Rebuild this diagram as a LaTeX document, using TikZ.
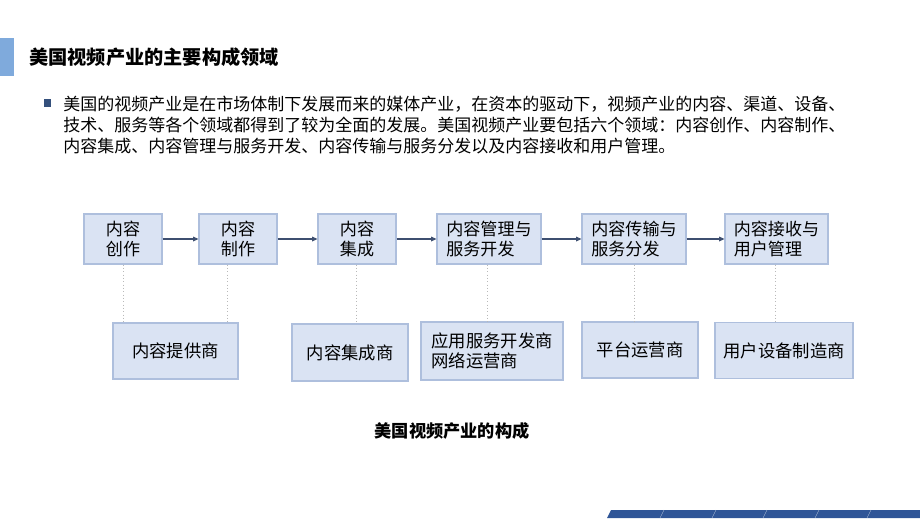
\documentclass[tikz,border=0pt]{standalone}
\usepackage{fontspec}
\setmainfont{Noto Sans CJK SC}
\usepackage{tikz}
\usetikzlibrary{arrows.meta}

\definecolor{barblue}{HTML}{7FAADC}
\definecolor{navy}{HTML}{34507C}
\definecolor{boxfill}{HTML}{DAE3F3}
\definecolor{boxline}{HTML}{AEBFDD}
\definecolor{flowcol}{HTML}{3E4F70}
\definecolor{stripe}{HTML}{2F5597}

\tikzset{
  box/.style={draw=boxline, fill=boxfill, line width=0.8pt, inner sep=0pt, minimum height=37.5pt,
    align=left, font=\fontsize{12.8pt}{15pt}\selectfont},
  subbox/.style={box, minimum height=42pt, font=\fontsize{13pt}{15pt}\selectfont},
  flow/.style={draw=flowcol, line width=0.8pt, -{Triangle[length=4pt,width=3.5pt]}},
  link/.style={draw=gray!55, line width=0.5pt, dotted}
}

\begin{document}
\begin{tikzpicture}[x=0.75pt,y=0.75pt,yscale=-1,xscale=1]
	%set diagram area 920 x 518
	\useasboundingbox[fill=white] (0,0) rectangle (920,518);
	
	%Shape: Rectangle [title bar]
	\fill[barblue] (0,38) rectangle (14,76);
	% Text Node
	\node (title) [anchor=west, inner sep=0pt, font=\fontsize{14.4pt}{16pt}\selectfont\bfseries] at (29,57) {美国视频产业的主要构成领域};
	
	%Shape: Square [bullet]
	\fill[navy] (44,99) rectangle (51,107);
	% Text Node
	\node (intro) [anchor=north west, inner sep=0pt, align=left, font=\fontsize{12.75pt}{15.75pt}\selectfont] at (63,96)
	  {美国的视频产业是在市场体制下发展而来的媒体产业，在资本的驱动下，视频产业的内容、渠道、设备、\\
	   技术、服务等各个领域都得到了较为全面的发展。美国视频产业要包括六个领域：内容创作、内容制作、\\
	   内容集成、内容管理与服务开发、内容传输与服务分发以及内容接收和用户管理。};
	
	% Top row
	\node (create) [box, minimum width=58.5pt] at (123,239) {内容\\创作};
	\node (make) [box, minimum width=58.5pt] at (238,239) {内容\\制作};
	\node (integ) [box, minimum width=58.5pt] at (357,239) {内容\\集成};
	\node (manage) [box, minimum width=78pt] at (489,239) {内容管理与\\服务开发};
	\node (trans) [box, minimum width=78pt] at (634,239) {内容传输与\\服务分发};
	\node (recv) [box, minimum width=77.25pt] at (776.5,239) {内容接收与\\用户管理};
	
	% Bottom row
	\node (provider) [subbox, minimum width=93.75pt] at (175.5,351) {内容提供商};
	\node (integrator) [subbox, minimum width=87pt, minimum height=42.75pt] at (350,352.5) {内容集成商};
	\node (operator) [subbox, minimum width=106.5pt, minimum height=43.5pt] at (492,351) {应用服务开发商\\网络运营商};
	\node (platform) [subbox, minimum width=87pt] at (640,350) {平台运营商};
	\node (maker) [subbox, minimum width=103.5pt] at (784,350.5) {用户设备制造商};
	
	% Arrows
	\draw[flow] (create) -- (make);
	\draw[flow] (make) -- (integ);
	\draw[flow] (integ) -- (manage);
	\draw[flow] (manage) -- (trans);
	\draw[flow] (trans) -- (recv);
	
	% Dotted links
	\draw[link] (create.south) -- (create.south |- provider.north);
	\draw[link] ([xshift=-8.25pt]make.south) -- ([xshift=-8.25pt]make.south |- provider.north);
	\draw[link] ([xshift=-0.75pt]integ.south) -- ([xshift=-0.75pt]integ.south |- integrator.north);
	\draw[link] ([xshift=-1.5pt]manage.south) -- ([xshift=-1.5pt]manage.south |- operator.north);
	\draw[link] (trans.south) -- (trans.south |- platform.north);
	\draw[link] ([xshift=-1pt]recv.south) -- ([xshift=-1pt]recv.south |- maker.north);
	
	% Text Node
	\node (caption) [inner sep=0pt, font=\fontsize{12.9pt}{15pt}\selectfont\bfseries] at (452,431) {美国视频产业的构成};
	
	%Shape: Polygon [bottom stripe]
	\fill[stripe] (607,518) -- (611,510) -- (920,510) -- (920,518) -- cycle;
	\foreach \sx in {660,712,763,815,867}
	  \draw[white!60!stripe, line width=0.3pt] (\sx+4,510) -- (\sx,518);
	
\end{tikzpicture}
\end{document}
